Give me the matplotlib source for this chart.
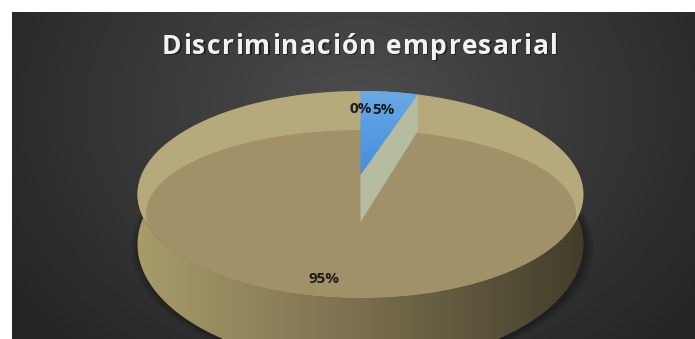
import numpy as np
import matplotlib
matplotlib.use("Agg")
import matplotlib.pyplot as plt
from matplotlib.patches import Polygon, Ellipse
from matplotlib.colors import to_rgb

# ---------------- data ----------------
title = "Discriminación empresarial"
categories = ["A", "B", "C"]
values = [0, 5, 95]
labels = ["0%", "5%", "95%"]

# ---------------- style / layout ----------------
W, Hpx = 695, 339
DPI = 100
CX, CY = 360.5, 175.0      # projected centre of the top disc
S, H, K = 219.0, 99.8, 0.188
D0, K2 = 47.0, 0.30        # depth of the pie
label_r = [0.75, 0.75, 0.88]

fig = plt.figure(figsize=(W / DPI, Hpx / DPI), dpi=DPI, facecolor="white")
ax = fig.add_axes([0, 0, 1, 1])
ax.set_xlim(0, W)
ax.set_ylim(Hpx, 0)
ax.axis("off")


def proj(r, phi, z=0.0):
    """phi: radians clockwise from the far point."""
    u = r * np.sin(phi)
    v = r * np.cos(phi)
    den = 1 + K * v
    X = CX + S * u / den
    Y = CY - H * v / den + z * D0 / (1 + K2 * v)
    return X, Y


# ---------------- background ----------------
x0, y0 = 12, 12
gx, gy = np.meshgrid(np.linspace(x0, W, 400), np.linspace(y0, Hpx, 200))
d = np.sqrt(((gx - 360) / 430) ** 2 + ((gy - 110) / 340) ** 2)
d = np.clip(d, 0, 1)
c_in = np.array(to_rgb("#4d4d4d"))
c_out = np.array(to_rgb("#242424"))
bg = c_in[None, None, :] * (1 - d[..., None]) + c_out[None, None, :] * d[..., None]
ax.imshow(bg, extent=[x0, W, Hpx, y0], zorder=0, interpolation="bilinear", aspect="auto")

phis = np.linspace(0, 2 * np.pi, 721)

# ---------------- shadow ----------------
bx, by = proj(1.0, phis, 1.0)
for i in range(6):
    e = 1.0 + 0.008 * i
    sx = CX + (bx - CX) * e + 2
    sy = by + 1 + i * 0.6
    ax.add_patch(Polygon(np.c_[sx, sy], closed=True, fc="black", ec="none",
                         alpha=0.06, zorder=1))

# ---------------- side wall ----------------
fr = np.linspace(np.deg2rad(70), np.deg2rad(290), 400)
tx, ty = proj(1.0, fr, 0.0)
qx, qy = proj(1.0, fr, 1.0)
wall = Polygon(np.r_[np.c_[tx, ty], np.c_[qx, qy][::-1]], closed=True,
               fc="none", ec="none", zorder=2)
ax.add_patch(wall)
xs = np.linspace(130, 592, 300)
t = (xs - 130) / (592 - 130)
stops = [(0.0, "#a99d6c"), (0.45, "#7f7451"), (1.0, "#403b29")]
cols = []
for tt in t:
    for (a0, ca), (a1, cb) in zip(stops[:-1], stops[1:]):
        if a0 <= tt <= a1:
            f = (tt - a0) / (a1 - a0)
            cols.append(np.array(to_rgb(ca)) * (1 - f) + np.array(to_rgb(cb)) * f)
            break
wimg = np.array(cols)[None, :, :].repeat(2, axis=0)
im = ax.imshow(wimg, extent=[130, 592, 345, 80], zorder=2, aspect="auto",
               interpolation="bilinear")
im.set_clip_path(wall)

# ---------------- top face ----------------
px, py = proj(1.0, phis, 0.0)
top = Polygon(np.c_[px, py], closed=True, fc="#b6a97b", ec="none", zorder=3)
ax.add_patch(top)
inner = Ellipse((361, 214), 2 * 215, 2 * 84, fc="#a09168", ec="none", zorder=3.5)
ax.add_patch(inner)
inner.set_clip_path(top)

# ---------------- slices ----------------
fracs = np.array(values, dtype=float) / np.sum(values)
starts = np.r_[0, np.cumsum(fracs)[:-1]] * 2 * np.pi
ends = np.cumsum(fracs) * 2 * np.pi
cx0, cy0 = proj(0.0, 0.0, 0.0)
cxb, cyb = proj(0.0, 0.0, 1.0)

# blue slice (index 1)
b0, b1 = starts[1], ends[1]
arc = np.linspace(b0, b1, 60)
ax_, ay_ = proj(1.0, arc, 0.0)
blue_poly = Polygon(np.r_[[[cx0, cy0]], np.c_[ax_, ay_]], closed=True,
                    fc="none", ec="none", zorder=5)
ax.add_patch(blue_poly)
gy2 = np.linspace(0, 1, 100)[:, None]
c_top = np.array(to_rgb("#6eaae6"))
c_bot = np.array(to_rgb("#3f8ddb"))
bimg = (c_top[None, None, :] * (1 - gy2[..., None]) + c_bot[None, None, :] * gy2[..., None]).repeat(2, axis=1)
bim = ax.imshow(bimg, extent=[cx0 - 5, max(ax_) + 5, cy0 + 5, min(ay_) - 5],
                zorder=5, aspect="auto", interpolation="bilinear")
bim.set_clip_path(blue_poly)

# cut face at end of blue slice
ex, ey = proj(1.0, b1, 0.0)
exb, eyb = proj(1.0, b1, 1.0)
cut = Polygon([[cx0, cy0], [ex, ey], [exb, eyb], [cxb, cyb]], closed=True,
              fc="#b6bc9f", ec="none", zorder=6)
ax.add_patch(cut)

# ---------------- labels ----------------
mids = (starts + ends) / 2
for lab, m, rr in zip(labels, mids, label_r):
    lx, ly = proj(rr, m, 0.0)
    ax.text(lx, ly, lab, ha="center", va="center", fontsize=11,
            fontfamily="Open Sans", fontweight="bold", color="#1c1c1c", zorder=8)

# ---------------- title with letter spacing ----------------
fig.canvas.draw()
rend = fig.canvas.get_renderer()
fs = 19
kw = dict(fontsize=fs, fontfamily="Open Sans", fontweight="bold")


def width_of(s):
    tt = ax.text(0, 0, s + "|", **kw)
    w1 = tt.get_window_extent(rend).width
    tt.remove()
    tt = ax.text(0, 0, "|", **kw)
    w2 = tt.get_window_extent(rend).width
    tt.remove()
    return w1 - w2


full = width_of(title)
n = len(title)
target_left, target_right = 162, 558
track = (target_right - target_left - full) / (n - 1)
for i, ch in enumerate(title):
    xpos = target_left + width_of(title[:i]) + i * track
    ax.text(xpos + 1.2, 55.2, ch, color="black", alpha=0.45, ha="left",
            va="baseline", zorder=9, **kw)
    ax.text(xpos, 54, ch, color="#f2f2f2", ha="left", va="baseline",
            zorder=10, **kw)

fig.savefig("out.png", dpi=DPI, facecolor="white")
